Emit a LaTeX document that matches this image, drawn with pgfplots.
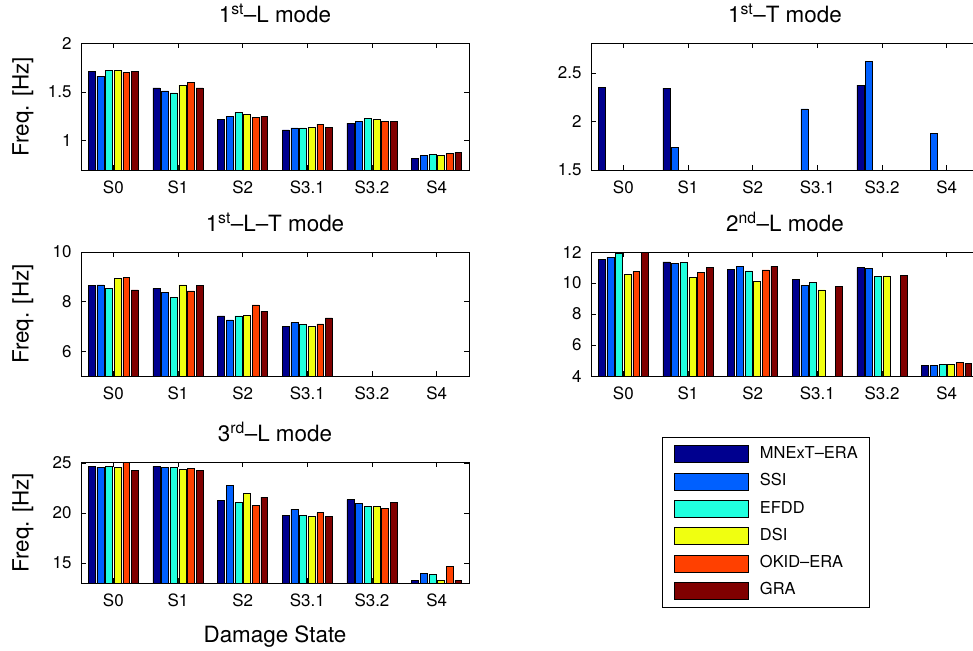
\documentclass[border=0pt]{standalone}
\usepackage{fontspec}
\setmainfont{TeX Gyre Heros}
\usepackage{pgfplots}
\pgfplotsset{compat=1.18}

% jet-like colours, one per identification method
\definecolor{c1}{RGB}{0,0,143}
\definecolor{c2}{RGB}{0,96,255}
\definecolor{c3}{RGB}{32,255,223}
\definecolor{c4}{RGB}{240,255,16}
\definecolor{c5}{RGB}{255,64,0}
\definecolor{c6}{RGB}{128,0,0}

\pgfplotsset{
  panel/.style={
    scale only axis, width=388bp,
    xmin=-0.5, xmax=5.5,
    xtick={0,...,5}, xticklabels={S0,S1,S2,S3.1,S3.2,S4},
    axis line style={line width=0.8bp},
    every tick/.style={black, line width=0.6bp},
    major tick length=5bp,
    tick label style={font=\fontsize{17}{20}\selectfont},
    /pgf/number format/assume math mode=true,
    xticklabel style={anchor=base, yshift=-23.3bp},
    yticklabel style={anchor=east, inner sep=0pt, xshift=-9.3bp},
    title style={font=\fontsize{22.5}{27}\selectfont, anchor=base,
      at={(axis description cs:0.5,1)}, yshift=14.7bp},
    label style={font=\fontsize{22.5}{27}\selectfont},
    ylabel style={at={(axis description cs:-0.1353,0.5)}, anchor=base, rotate=0},
    xlabel style={at={(axis description cs:0.5,0)}, anchor=base, yshift=-59bp},
  },
  mbar/.style={ybar, bar width=0.107, bar shift=#1, draw=black, line width=0.5bp,
    legend image code/.code={\draw[##1,line width=0.6bp] (0bp,-8.5bp) rectangle (74bp,8.5bp);}},
  s1/.style={mbar=-0.3333, fill=c1},
  s2/.style={mbar=-0.2, fill=c2},
  s3/.style={mbar=-0.0667, fill=c3},
  s4/.style={mbar=0.0667, fill=c4},
  s5/.style={mbar=0.2, fill=c5},
  s6/.style={mbar=0.3333, fill=c6},
}

\begin{document}
\begin{tikzpicture}

% 1st-L mode
\begin{axis}[panel, at={(81bp,-170bp)}, anchor=south west, height=127bp,
  ymin=0.7, ymax=2, ytick={1,1.5,2},
  title={1\textsuperscript{st}--L mode}, ylabel={Freq. [Hz]}]
\addplot[s1] coordinates {(0,1.71)(1,1.54)(2,1.22)(3,1.11)(4,1.18)(5,0.82)};
\addplot[s2] coordinates {(0,1.66)(1,1.51)(2,1.25)(3,1.13)(4,1.20)(5,0.85)};
\addplot[s3] coordinates {(0,1.72)(1,1.49)(2,1.29)(3,1.13)(4,1.23)(5,0.86)};
\addplot[s4] coordinates {(0,1.72)(1,1.57)(2,1.27)(3,1.14)(4,1.22)(5,0.85)};
\addplot[s5] coordinates {(0,1.70)(1,1.60)(2,1.24)(3,1.17)(4,1.20)(5,0.87)};
\addplot[s6] coordinates {(0,1.71)(1,1.54)(2,1.25)(3,1.14)(4,1.20)(5,0.88)};
\end{axis}

% 1st-T mode
\begin{axis}[panel, at={(591bp,-170bp)}, anchor=south west, height=127bp,
  ymin=1.5, ymax=2.81, ytick={1.5,2,2.5},
  title={1\textsuperscript{st}--T mode}]
\addplot[s1] coordinates {(0,2.35)(1,2.345)(4,2.375)};
\addplot[s2] coordinates {(1,1.73)(3,2.13)(4,2.62)(5,1.88)};
\end{axis}

% 1st-L-T mode
\begin{axis}[panel, at={(81bp,-376bp)}, anchor=south west, height=124bp,
  ymin=5, ymax=10, ytick={6,8,10},
  title={1\textsuperscript{st}--L--T mode}, ylabel={Freq. [Hz]}]
\addplot[s1] coordinates {(0,8.66)(1,8.53)(2,7.42)(3,7.00)};
\addplot[s2] coordinates {(0,8.67)(1,8.38)(2,7.26)(3,7.15)};
\addplot[s3] coordinates {(0,8.54)(1,8.18)(2,7.42)(3,7.08)};
\addplot[s4] coordinates {(0,8.93)(1,8.67)(2,7.46)(3,7.00)};
\addplot[s5] coordinates {(0,8.97)(1,8.43)(2,7.87)(3,7.10)};
\addplot[s6] coordinates {(0,8.47)(1,8.66)(2,7.61)(3,7.34)};
\end{axis}

% 2nd-L mode
\begin{axis}[panel, at={(591bp,-376bp)}, anchor=south west, height=124bp,
  ymin=4, ymax=12, ytick={4,6,8,10,12},
  title={2\textsuperscript{nd}--L mode}]
\addplot[s1] coordinates {(0,11.51)(1,11.36)(2,10.87)(3,10.24)(4,11.00)(5,4.71)};
\addplot[s2] coordinates {(0,11.66)(1,11.25)(2,11.08)(3,9.86)(4,10.93)(5,4.71)};
\addplot[s3] coordinates {(0,11.90)(1,11.32)(2,10.78)(3,10.05)(4,10.42)(5,4.73)};
\addplot[s4] coordinates {(0,10.54)(1,10.35)(2,10.12)(3,9.56)(4,10.46)(5,4.75)};
\addplot[s5] coordinates {(0,10.74)(1,10.70)(2,10.85)(5,4.88)};
\addplot[s6] coordinates {(0,12.00)(1,11.00)(2,11.08)(3,9.77)(4,10.48)(5,4.82)};
\end{axis}

% 3rd-L mode, carrying the legend
\begin{axis}[panel, at={(81bp,-583bp)}, anchor=south west, height=121bp,
  ymin=13, ymax=25.1, ytick={15,20,25},
  title={3\textsuperscript{rd}--L mode}, ylabel={Freq. [Hz]}, xlabel={Damage State},
  legend cell align=left,
  legend style={at={(1.4974,1.2066)}, anchor=north west, draw=black, line width=0.8bp,
    font=\fontsize{16.5}{19}\selectfont, inner xsep=12bp, inner ysep=8bp,
    row sep=9.7bp, column sep=11bp,
    nodes={inner sep=0pt, text height=12bp, text depth=3.5bp}}]
\addplot[s1] coordinates {(0,24.67)(1,24.67)(2,21.27)(3,19.77)(4,21.33)(5,13.23)};
\addplot[s2] coordinates {(0,24.60)(1,24.53)(2,22.80)(3,20.40)(4,21.00)(5,14.00)};
\addplot[s3] coordinates {(0,24.67)(1,24.53)(2,21.07)(3,19.80)(4,20.67)(5,13.83)};
\addplot[s4] coordinates {(0,24.53)(1,24.37)(2,21.93)(3,19.70)(4,20.67)(5,13.27)};
\addplot[s5] coordinates {(0,25.07)(1,24.47)(2,20.73)(3,20.03)(4,20.50)(5,14.67)};
\addplot[s6] coordinates {(0,24.30)(1,24.23)(2,21.60)(3,19.67)(4,21.07)(5,13.27)};
\legend{MNExT--ERA,SSI,EFDD,DSI,OKID--ERA,GRA}
\end{axis}

\pgfresetboundingbox
\path[use as bounding box] (0,0) rectangle (973bp,-651bp);
\end{tikzpicture}
\end{document}
